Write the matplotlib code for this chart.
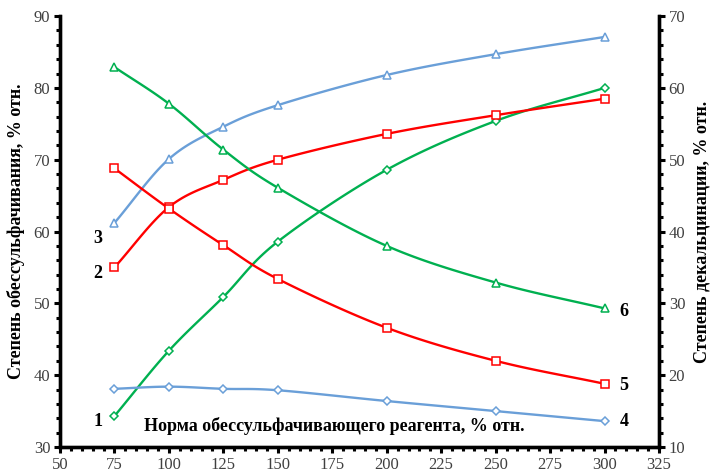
import numpy as np
import matplotlib
matplotlib.use('Agg')
import matplotlib.pyplot as plt
from matplotlib.ticker import MultipleLocator

plt.rcParams['font.family'] = ['Liberation Serif', 'DejaVu Serif']

# reagent norm, % rel.
norm = [75, 100, 125, 150, 200, 250, 300]

# desulfurization degree (left axis)
s1 = [34.3, 43.4, 50.9, 58.6, 68.6, 75.4, 80.0]
s2 = [55.0, 63.4, 67.2, 70.0, 73.6, 76.2, 78.5]
s3 = [61.2, 70.1, 74.6, 77.6, 81.8, 84.7, 87.1]

# decalcination degree (right axis)
s4 = [18.1, 18.4, 18.1, 17.9, 16.4, 15.0, 13.6]
s5 = [48.8, 43.2, 38.1, 33.4, 26.6, 22.0, 18.8]
s6 = [62.9, 57.8, 51.4, 46.1, 38.0, 32.9, 29.3]

blue = '#6A9FD8'
red = '#FF0000'
green = '#00B050'


def smooth(x, y, n=20):
    # catmull-rom curve through the points, like excel's smoothed line
    p = np.column_stack([x, y]).astype(float)
    p = np.vstack([2 * p[0] - p[1], p, 2 * p[-1] - p[-2]])
    out = []
    t = np.linspace(0, 1, n, endpoint=False)[:, None]
    for i in range(1, len(p) - 2):
        p0, p1, p2, p3 = p[i - 1], p[i], p[i + 1], p[i + 2]
        seg = 0.5 * (2 * p1 + (-p0 + p2) * t + (2 * p0 - 5 * p1 + 4 * p2 - p3) * t ** 2
                     + (-p0 + 3 * p1 - 3 * p2 + p3) * t ** 3)
        out.append(seg)
    out.append(p[-2][None, :])
    out = np.vstack(out)
    return out[:, 0], out[:, 1]


fig = plt.figure(figsize=(7.14, 4.74), dpi=100)
ax = fig.add_axes([0.084, 0.057, 0.839, 0.909])
ax2 = ax.twinx()

for a, y, c, m, ms in [(ax, s1, green, 'D', 4.2), (ax, s2, red, 's', 6), (ax, s3, blue, '^', 6),
                       (ax2, s4, blue, 'D', 4.2), (ax2, s5, red, 's', 6), (ax2, s6, green, '^', 6)]:
    xs, ys = smooth(norm, y)
    a.plot(xs, ys, color=c, lw=1.7, zorder=2)
    a.plot(norm, y, ls='none', marker=m, ms=ms, mfc='white', mec=c, mew=1.1, zorder=3)

ax.set_xlim(50, 325)
ax.set_ylim(30, 90)
ax2.set_ylim(10, 70)
ax.xaxis.set_major_locator(MultipleLocator(25))
ax.xaxis.set_minor_locator(MultipleLocator(5))
ax.yaxis.set_major_locator(MultipleLocator(10))
ax.yaxis.set_minor_locator(MultipleLocator(2))
ax2.yaxis.set_major_locator(MultipleLocator(10))
ax2.yaxis.set_minor_locator(MultipleLocator(2))

for a in (ax, ax2):
    for s in a.spines.values():
        s.set_linewidth(2.4)
    a.spines['top'].set_visible(False)
    a.tick_params(which='major', direction='out', length=4, width=2.2,
                  labelsize=12, labelcolor='#404040', pad=3)
    a.tick_params(which='minor', direction='out', length=3, width=2.2)

ax.set_ylabel('Степень обессульфачивания, % отн.', fontsize=13, fontweight='bold', labelpad=6)
ax2.set_ylabel('Степень декальцинации, % отн.', fontsize=13, fontweight='bold', labelpad=6)
ax.text(176, 32.9, 'Норма обессульфачивающего реагента, % отн.', fontsize=13,
        fontweight='bold', ha='center', va='center')

for lbl, xx, yy in [('1', 67.5, 33.5), ('2', 67.5, 54.2), ('3', 67.5, 59.1),
                    ('4', 309, 33.5), ('5', 309, 38.5), ('6', 309, 48.8)]:
    ax.text(xx, yy, lbl, fontsize=13, fontweight='bold', ha='center', va='center')

fig.savefig('out.png', dpi=100)
